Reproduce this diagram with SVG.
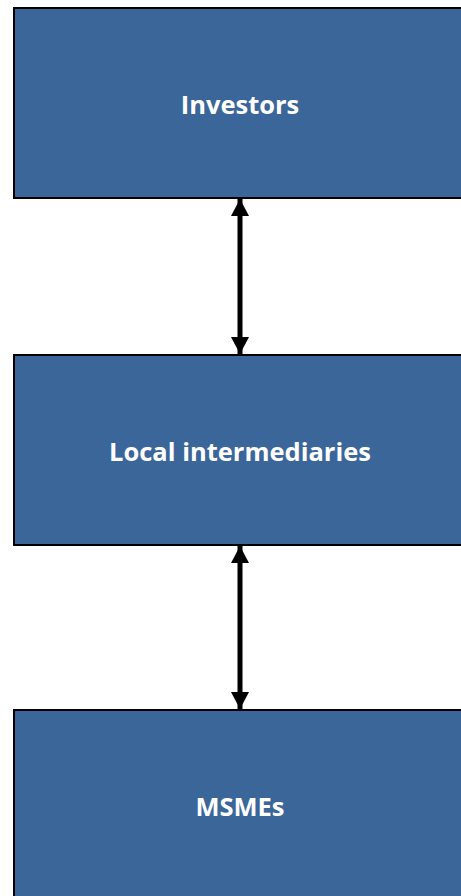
<svg xmlns="http://www.w3.org/2000/svg" width="461" height="896" viewBox="0 0 461 896">
<style>
.box{fill:#3b6699;stroke:#000;stroke-width:2}
.lbl{fill:#fff;font-family:"Open Sans","Liberation Sans",sans-serif;font-weight:bold;font-size:25.5px;text-anchor:middle;dominant-baseline:central}
.conn{stroke:#000;stroke-width:5;fill:none;marker-start:url(#ah);marker-end:url(#ah)}
</style>
<defs>
<marker id="ah" viewBox="0 0 18 18" refX="17" refY="9" markerWidth="18" markerHeight="18" markerUnits="userSpaceOnUse" orient="auto-start-reverse">
<path d="M0,0 L17,9 L0,18 Z" fill="#000"/>
</marker>
</defs>
<g id="investors"><rect class="box" x="14" y="8" width="460" height="190"/><text class="lbl" x="240" y="104">Investors</text></g>
<g id="intermediaries"><rect class="box" x="14" y="355" width="460" height="190"/><text class="lbl" x="240" y="451">Local intermediaries</text></g>
<g id="msmes"><rect class="box" x="14" y="710" width="460" height="200"/><text class="lbl" x="240" y="806">MSMEs</text></g>
<g id="connectors">
<line class="conn" x1="240" y1="199" x2="240" y2="354"/>
<line class="conn" x1="240" y1="546" x2="240" y2="709"/>
</g>
</svg>
